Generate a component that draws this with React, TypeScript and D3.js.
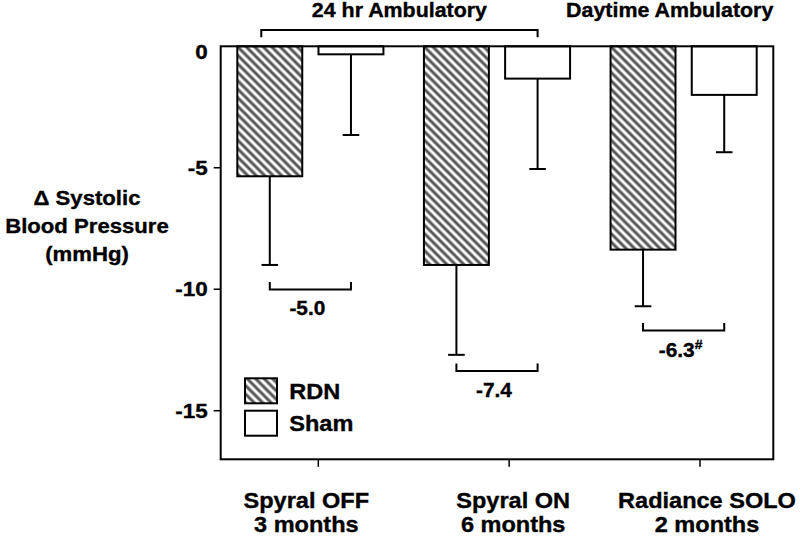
import React from "react";
import * as d3 from "d3";

const categoryNames = ["Spyral OFF", "Spyral ON", "Radiance SOLO"];
const categoryDurations = ["3 months", "6 months", "2 months"];
const groups = ["RDN", "Sham"];
const rdnMeans = [-5.35, -9.0, -8.37];
const rdnErrLow = [-9.0, -12.7, -10.7];
const shamMeans = [-0.33, -1.33, -2.0];
const shamErrLow = [-3.65, -5.05, -4.36];
const diffLabels = ["-5.0", "-7.4", "-6.3"];
const diffMarks = ["", "", "#"];
const bracketLevels = [-9.7, -13.06, -11.39];
const yTicks = [0, -5, -10, -15];
const measureTitles = ["24 hr Ambulatory", "Daytime Ambulatory"];
const yTitleLines = ["\u0394 Systolic", "Blood Pressure", "(mmHg)"];

const W = 800;
const H = 538;
const plotL = 220.7;
const plotR = 773.3;
const plotT = 46.3;
const plotB = 459.3;
const FONT = "'Liberation Sans', Arial, Helvetica, sans-serif";
const SX = 1.07;
const labelDx = [-12, 4, 7];

function T(props: {
  x: number;
  y: number;
  size: number;
  anchor?: string;
  central?: boolean;
  children: React.ReactNode;
}) {
  return (
    <text
      transform={`translate(${props.x},${props.y}) scale(${SX},1)`}
      fontSize={props.size}
      textAnchor={props.anchor || "start"}
      dominantBaseline={props.central ? "central" : undefined}
      stroke="#000"
      strokeWidth={0.35}
    >
      {props.children}
    </text>
  );
}

export default function App() {
  const y = d3.scaleLinear().domain([-17, 0]).range([plotB, plotT]);
  const x0 = d3
    .scaleBand<string>()
    .domain(categoryNames)
    .range([plotL, plotR])
    .paddingInner(0.217)
    .paddingOuter(0.089);
  const x1 = d3
    .scaleBand<string>()
    .domain(groups)
    .range([0, x0.bandwidth()])
    .paddingInner(0.2);
  const xAxis = d3
    .scalePoint<string>()
    .domain(categoryNames)
    .range([plotL + 97.6, plotR - 73.3]);

  const bw = x1.bandwidth();
  const cx = (c: string, g: string) => (x0(c) as number) + (x1(g) as number) + bw / 2;
  const capW = 16.6;

  const bars = categoryNames.flatMap((c, i) => [
    { c, g: "RDN", v: rdnMeans[i], e: rdnErrLow[i] },
    { c, g: "Sham", v: shamMeans[i], e: shamErrLow[i] },
  ]);

  const bracketL = cx(categoryNames[0], "RDN") - 8.5;
  const bracketR = cx(categoryNames[1], "Sham");

  return (
    <svg
      width={W}
      height={H}
      style={{ position: "absolute", left: 0, top: 0, background: "#fff" }}
      fontFamily={FONT}
      fontWeight="bold"
    >
      <defs>
        <pattern
          id="hatch"
          patternUnits="userSpaceOnUse"
          width={6}
          height={6}
          patternTransform="rotate(45)"
        >
          <rect width={6} height={6} fill="#fff" />
          <line x1={0} y1={3} x2={6} y2={3} stroke="#555" strokeWidth={3} />
        </pattern>
      </defs>

      {/* measure titles */}
      <T x={(bracketL + bracketR) / 2} y={17} size={20} anchor="middle">
        {measureTitles[0]}
      </T>
      <T x={plotR} y={17} size={20} anchor="end">
        {measureTitles[1]}
      </T>
      <path
        d={`M${bracketL},37.3V30H${bracketR}V37.3`}
        fill="none"
        stroke="#000"
        strokeWidth={2}
      />

      {/* bars */}
      {bars.map((b, i) => {
        const xl = (x0(b.c) as number) + (x1(b.g) as number);
        const yTop = y(0);
        const yBot = y(b.v);
        const xc = xl + bw / 2;
        return (
          <g key={i}>
            <line x1={xc} x2={xc} y1={yBot} y2={y(b.e)} stroke="#000" strokeWidth={2} />
            <line
              x1={xc - capW / 2}
              x2={xc + capW / 2}
              y1={y(b.e)}
              y2={y(b.e)}
              stroke="#000"
              strokeWidth={2}
            />
            <rect
              x={xl}
              y={yTop}
              width={bw}
              height={yBot - yTop}
              fill={b.g === "RDN" ? "url(#hatch)" : "#fff"}
              stroke="#000"
              strokeWidth={2}
            />
          </g>
        );
      })}

      {/* frame */}
      <rect
        x={plotL}
        y={plotT}
        width={plotR - plotL}
        height={plotB - plotT}
        fill="none"
        stroke="#000"
        strokeWidth={2}
      />

      {/* y ticks */}
      {yTicks.map((t) => (
        <g key={t}>
          {t !== 0 && (
            <line x1={plotL - 7} x2={plotL} y1={y(t)} y2={y(t)} stroke="#000" strokeWidth={1.5} />
          )}
          <T x={plotL - 13} y={y(t) + (t === 0 ? 5.5 : 0)} size={21} anchor="end" central>
            {t}
          </T>
        </g>
      ))}

      {/* y title */}
      {yTitleLines.map((l, i) => (
        <T key={i} x={87} y={205 + i * 28} size={20.7} anchor="middle">
          {l}
        </T>
      ))}

      {/* x ticks and labels */}
      {categoryNames.map((c, i) => {
        const xt = xAxis(c) as number;
        return (
          <g key={c}>
            <line x1={xt} x2={xt} y1={plotB} y2={plotB + 7.5} stroke="#000" strokeWidth={1.5} />
            <T x={xt + labelDx[i]} y={508} size={22} anchor="middle">
              {c}
            </T>
            <T x={xt + labelDx[i]} y={532} size={22} anchor="middle">
              {categoryDurations[i]}
            </T>
          </g>
        );
      })}

      {/* difference brackets */}
      {categoryNames.map((c, i) => {
        const xa = cx(c, "RDN");
        const xb = cx(c, "Sham");
        const yl = y(bracketLevels[i]);
        const yb = yl + 7.5;
        return (
          <g key={"d" + i}>
            <path
              d={`M${xa},${yl}V${yb}H${xb}V${yl}`}
              fill="none"
              stroke="#000"
              strokeWidth={2}
            />
            <T x={(xa + xb) / 2 - 3} y={yb + 26} size={19.5} anchor="middle">
              {diffLabels[i]}
              {diffMarks[i] && (
                <tspan fontSize={13} dy={-8}>
                  {diffMarks[i]}
                </tspan>
              )}
            </T>
          </g>
        );
      })}

      {/* legend */}
      {groups.map((g, i) => (
        <g key={g}>
          <rect
            x={245}
            y={378.3 + i * 32.4}
            width={32}
            height={25}
            fill={g === "RDN" ? "url(#hatch)" : "#fff"}
            stroke="#000"
            strokeWidth={2}
          />
          <T x={289.3} y={391 + i * 32.4} size={22} central>
            {g}
          </T>
        </g>
      ))}
    </svg>
  );
}
